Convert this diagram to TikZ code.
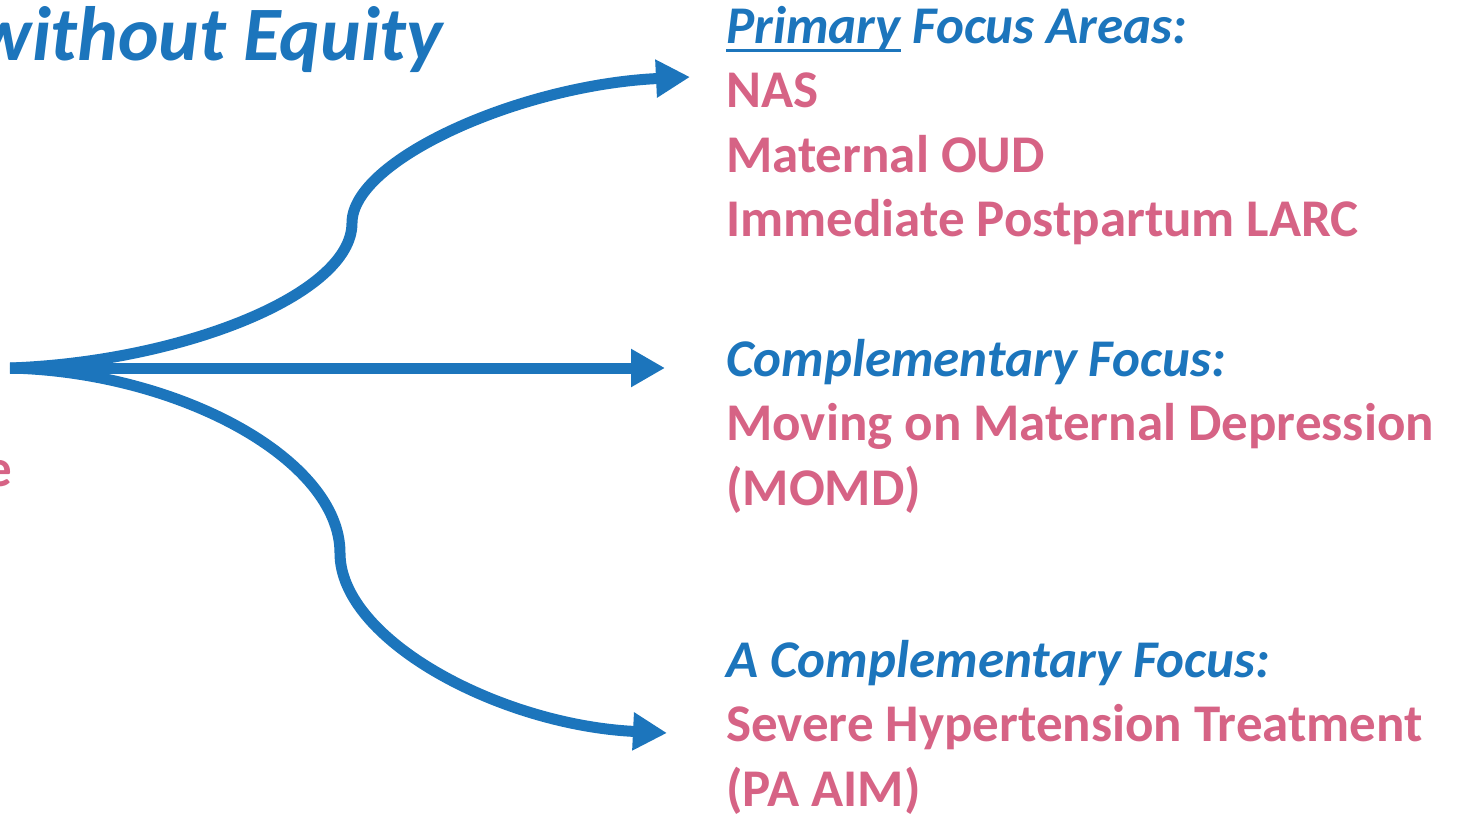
\documentclass[tikz,border=0pt]{standalone}
\usepackage{fontspec}
\setmainfont{Carlito}
\usetikzlibrary{arrows.meta}
\definecolor{flowblue}{RGB}{28,117,188}
\definecolor{focuspink}{RGB}{214,99,133}
\newcommand\undl[1]{\setbox0\hbox{#1}\rlap{\rule[-9pt]{\wd0}{3pt}}\box0\relax}

\begin{document}
\begin{tikzpicture}[x=1pt,y=-1pt,>={Triangle[length=34pt,width=36pt]},
flow/.style={->,draw=flowblue,line width=11pt},
head/.style={anchor=base west,inner sep=0pt,text=flowblue,font=\fontsize{53}{64}\selectfont\bfseries\itshape},
item/.style={anchor=base west,inner sep=0pt,text=focuspink,font=\fontsize{53}{64}\selectfont\bfseries}]
\useasboundingbox (0,0) rectangle (1461,822);
\node[head,font=\fontsize{77}{92}\selectfont\bfseries\itshape,anchor=base east] (title) at (443,60) {without Equity};
\node[item,anchor=base east] (tag) at (12,486) {e};
\coordinate (root) at (10,368);
\coordinate (bendA) at (352,223);
\coordinate (bendC) at (340,553);
\coordinate (tipA) at (690,77);
\coordinate (tipB) at (665,368);
\coordinate (tipC) at (667,733);
\draw[flow] (root) -- (tipB);
\draw[flow] (root) .. controls (180,362) and (352,295) .. (bendA) .. controls (352,160) and (520,85) .. (tipA);
\draw[flow] (root) .. controls (180,372) and (340,460) .. (bendC) .. controls (340,640) and (500,725) .. (tipC);
\node[head] (prim) at (726,43) {\undl{Primary} Focus Areas:};
\node[item] (nas) at (726,107.5) {NAS};
\node[item] (oud) at (726,172) {Maternal OUD};
\node[item] (larc) at (726,236.5) {Immediate Postpartum LARC};
\node[head] (comp) at (726,376) {Complementary Focus:};
\node[item] (momd) at (726,440.5) {Moving on Maternal Depression};
\node[item] (momdab) at (726,505) {(MOMD)};
\node[head] (acomp) at (726,677) {A Complementary Focus:};
\node[item] (hyp) at (726,741) {Severe Hypertension Treatment};
\node[item] (paaim) at (726,806) {(PA AIM)};
\end{tikzpicture}
\end{document}
